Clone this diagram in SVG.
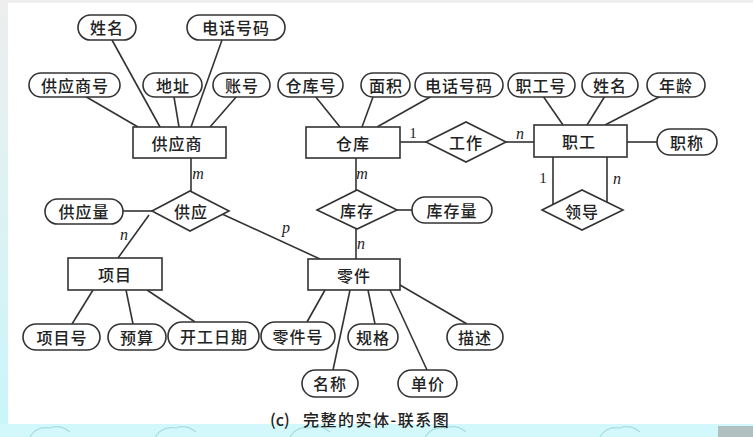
<svg xmlns="http://www.w3.org/2000/svg" width="753" height="437" viewBox="0 0 753 437">
<defs>
<linearGradient id="lg" x1="0" y1="0" x2="0" y2="1">
<stop offset="0" stop-color="#eeeeee"/>
<stop offset="1" stop-color="#c8f6fa"/>
</linearGradient>
<style>
.e{fill:#fff;stroke:#333;stroke-width:1.6}
.r{fill:#fff;stroke:#333;stroke-width:1.6}
.d{fill:#fff;stroke:#333;stroke-width:1.6}
.l{stroke:#333;stroke-width:1.6;fill:none}
.t{font-family:"Noto Sans CJK SC","Noto Sans CJK JP",sans-serif;font-size:16px;fill:#222;text-anchor:middle;dominant-baseline:central;letter-spacing:1px;font-weight:500}
.c{font-family:"Liberation Serif",serif;font-style:italic;font-size:16px;fill:#222;text-anchor:middle;dominant-baseline:central}
.u{font-family:"Liberation Serif",serif;font-size:15px;fill:#222;text-anchor:middle;dominant-baseline:central}
.cap{font-family:"Noto Sans CJK SC","Noto Sans CJK JP",sans-serif;font-size:16px;fill:#222;dominant-baseline:central;font-weight:500}
.cl{fill:none;stroke:#a8dde0;stroke-width:1.2}
</style>
</defs>
<rect x="0" y="0" width="753" height="437" fill="#fff"/>
<rect x="0" y="0" width="8" height="437" fill="url(#lg)"/>
<rect x="0" y="0" width="753" height="3" fill="#eeeeee"/>
<rect x="0" y="424" width="753" height="13" fill="#d2f8fb"/>
<g id="clouds">
<path class="cl" d="M30 437 Q36 426 50 428 Q60 424 70 432"/>
<path class="cl" d="M155 437 Q162 426 176 428 Q186 424 196 432"/>
<path class="cl" d="M290 437 Q296 426 310 428 Q320 424 330 432"/>
<path class="cl" d="M425 437 Q432 426 446 428 Q456 424 466 432"/>
<path class="cl" d="M600 437 Q606 426 620 428 Q630 424 640 432"/>
<rect x="718" y="426" width="35" height="11" fill="#9a9a9a" opacity="0.6"/>
</g>
<g id="connectors">
<line class="l" x1="83" y1="95" x2="138" y2="127"/>
<line class="l" x1="112" y1="40" x2="160" y2="127"/>
<line class="l" x1="174" y1="97" x2="179" y2="127"/>
<line class="l" x1="222" y1="40" x2="191" y2="127"/>
<line class="l" x1="237" y1="96" x2="210" y2="127"/>
<line class="l" x1="191" y1="158" x2="191" y2="191"/>
<line class="l" x1="123" y1="211" x2="152" y2="211"/>
<line class="l" x1="149" y1="215" x2="118" y2="258"/>
<line class="l" x1="222" y1="214" x2="320" y2="259"/>
<line class="l" x1="315" y1="96" x2="340" y2="127"/>
<line class="l" x1="373" y1="97" x2="362" y2="127"/>
<line class="l" x1="432" y1="96" x2="377" y2="127"/>
<line class="l" x1="356" y1="158" x2="356" y2="190"/>
<line class="l" x1="397" y1="210" x2="412" y2="210"/>
<line class="l" x1="356" y1="229" x2="356" y2="259"/>
<line class="l" x1="400" y1="142" x2="426" y2="142"/>
<line class="l" x1="506" y1="142" x2="534" y2="142"/>
<line class="l" x1="543" y1="96" x2="563" y2="125"/>
<line class="l" x1="605" y1="96" x2="587" y2="125"/>
<line class="l" x1="663" y1="95" x2="605" y2="125"/>
<line class="l" x1="627" y1="142" x2="657" y2="142"/>
<line class="l" x1="553" y1="157" x2="553" y2="205"/>
<line class="l" x1="607" y1="157" x2="607" y2="202"/>
<line class="l" x1="93" y1="290" x2="72" y2="324"/>
<line class="l" x1="126" y1="290" x2="133" y2="324"/>
<line class="l" x1="147" y1="290" x2="195" y2="322"/>
<line class="l" x1="325" y1="290" x2="307" y2="322"/>
<line class="l" x1="350" y1="290" x2="333" y2="370"/>
<line class="l" x1="368" y1="290" x2="375" y2="324"/>
<line class="l" x1="390" y1="290" x2="427" y2="370"/>
<line class="l" x1="400" y1="285" x2="467" y2="324"/>
</g>
<g id="labels">
<text class="c" x="198" y="173">m</text>
<text class="c" x="124" y="234">n</text>
<text class="c" x="286" y="227">p</text>
<text class="c" x="362" y="173">m</text>
<text class="c" x="361" y="243">n</text>
<text class="u" x="413" y="133">1</text>
<text class="c" x="520" y="133">n</text>
<text class="u" x="543" y="178">1</text>
<text class="c" x="617" y="178">n</text>
</g>
<g id="n_gys"><rect class="r" x="133" y="127" width="93" height="31"/><text class="t" x="177" y="143">供应商</text></g>
<g id="n_ck"><rect class="r" x="306" y="127" width="94" height="31"/><text class="t" x="353" y="143">仓库</text></g>
<g id="n_zg"><rect class="r" x="534" y="125" width="93" height="32"/><text class="t" x="579" y="141">职工</text></g>
<g id="n_xm"><rect class="r" x="68" y="258" width="94" height="32"/><text class="t" x="115" y="274">项目</text></g>
<g id="n_lj"><rect class="r" x="308" y="259" width="92" height="31"/><text class="t" x="354" y="275">零件</text></g>
<g id="n_gy"><polygon class="d" points="152,211 190,191 229,211 190,231"/><text class="t" x="191" y="211">供应</text></g>
<g id="n_kc"><polygon class="d" points="317,210 357,190 397,210 357,229"/><text class="t" x="357" y="210">库存</text></g>
<g id="n_gz"><polygon class="d" points="426,142 466,122 506,142 466,162"/><text class="t" x="466" y="142">工作</text></g>
<g id="n_ld"><polygon class="d" points="542,210 582,190 623,210 582,230"/><text class="t" x="582" y="211">领导</text></g>
<g id="a_xm1"><rect class="e" x="78" y="15" width="58" height="25" rx="12.5"/><text class="t" x="107" y="27">姓名</text></g>
<g id="a_dh1"><rect class="e" x="187" y="15" width="98" height="25" rx="12.5"/><text class="t" x="236" y="27">电话号码</text></g>
<g id="a_gysh"><rect class="e" x="29" y="73" width="91" height="24" rx="12"/><text class="t" x="75" y="85">供应商号</text></g>
<g id="a_dz"><rect class="e" x="143" y="73" width="59" height="24" rx="12"/><text class="t" x="173" y="85">地址</text></g>
<g id="a_zh"><rect class="e" x="213" y="73" width="57" height="24" rx="12"/><text class="t" x="242" y="85">账号</text></g>
<g id="a_ckh"><rect class="e" x="278" y="73" width="65" height="24" rx="12"/><text class="t" x="311" y="85">仓库号</text></g>
<g id="a_mj"><rect class="e" x="361" y="73" width="49" height="24" rx="12"/><text class="t" x="386" y="85">面积</text></g>
<g id="a_dh2"><rect class="e" x="415" y="73" width="88" height="24" rx="12"/><text class="t" x="459" y="85">电话号码</text></g>
<g id="a_zgh"><rect class="e" x="508" y="73" width="67" height="24" rx="12"/><text class="t" x="541" y="85">职工号</text></g>
<g id="a_xm2"><rect class="e" x="582" y="73" width="56" height="24" rx="12"/><text class="t" x="610" y="85">姓名</text></g>
<g id="a_nl"><rect class="e" x="647" y="73" width="58" height="24" rx="12"/><text class="t" x="676" y="85">年龄</text></g>
<g id="a_zc"><rect class="e" x="657" y="129" width="60" height="26" rx="13"/><text class="t" x="687" y="142">职称</text></g>
<g id="a_gyl"><rect class="e" x="45" y="199" width="78" height="25" rx="12.5"/><text class="t" x="84" y="211">供应量</text></g>
<g id="a_kcl"><rect class="e" x="412" y="197" width="80" height="26" rx="13"/><text class="t" x="452" y="210">库存量</text></g>
<g id="a_xmh"><rect class="e" x="23" y="324" width="77" height="26" rx="13"/><text class="t" x="62" y="337">项目号</text></g>
<g id="a_ys"><rect class="e" x="108" y="324" width="58" height="26" rx="13"/><text class="t" x="137" y="337">预算</text></g>
<g id="a_kgrq"><rect class="e" x="168" y="322" width="91" height="28" rx="14"/><text class="t" x="214" y="336">开工日期</text></g>
<g id="a_ljh"><rect class="e" x="261" y="322" width="74" height="28" rx="14"/><text class="t" x="298" y="336">零件号</text></g>
<g id="a_gg"><rect class="e" x="348" y="324" width="50" height="26" rx="13"/><text class="t" x="373" y="337">规格</text></g>
<g id="a_ms"><rect class="e" x="447" y="324" width="56" height="26" rx="13"/><text class="t" x="475" y="337">描述</text></g>
<g id="a_mc"><rect class="e" x="302" y="370" width="56" height="27" rx="13.5"/><text class="t" x="330" y="383">名称</text></g>
<g id="a_dj"><rect class="e" x="398" y="370" width="59" height="27" rx="13.5"/><text class="t" x="428" y="383">单价</text></g>
<g id="caption"><text class="cap" y="419"><tspan x="270">(c)</tspan><tspan x="303" style="letter-spacing:1.5px">完整的实体-联系图</tspan></text></g>
</svg>
